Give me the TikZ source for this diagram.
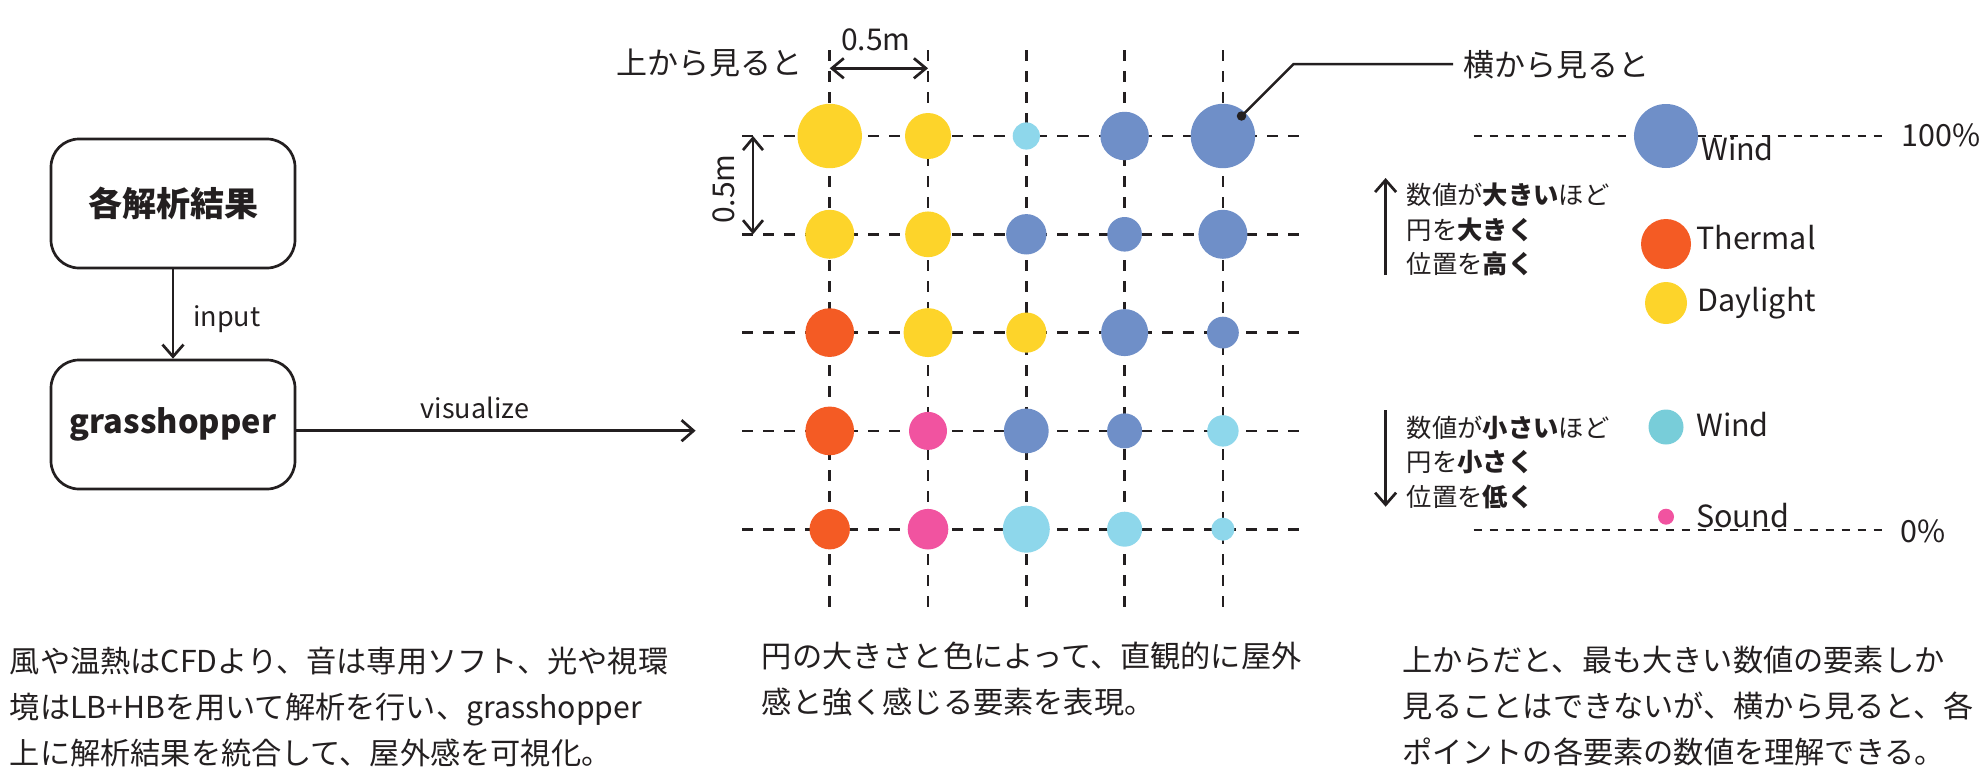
\documentclass[tikz,border=0pt]{standalone}
\usepackage{fontspec}
\setmainfont{Noto Sans CJK JP}
\usetikzlibrary{arrows.meta}
\definecolor{ink}{HTML}{231F20}
\definecolor{cy}{HTML}{FDD42A}
\definecolor{co}{HTML}{F45B24}
\definecolor{cb}{HTML}{6F8FC8}
\definecolor{cl}{HTML}{8ED7EB}
\definecolor{clw}{HTML}{78CDD9}
\definecolor{cp}{HTML}{F153A0}
\begin{document}
\begin{tikzpicture}[x=1pt,y=-1pt,
  every node/.style={text=ink},
  box/.style={draw=ink, line width=2.7pt, rounded corners=28pt, minimum width=244pt, minimum height=129pt, inner sep=0pt, font=\bfseries\fontsize{34}{40}\selectfont},
  grid/.style={draw=ink, line width=2.7pt, dash pattern=on 10.5pt off 10.5pt},
  level/.style={draw=ink, line width=2pt, dash pattern=on 8pt off 8pt},
  arr/.style={draw=ink, line width=2.7pt, -{Straight Barb[length=12pt,width=21pt]}},
  dim/.style={draw=ink, line width=2.7pt, {Straight Barb[length=12pt,width=20pt]}-{Straight Barb[length=12pt,width=20pt]}},
  blob/.style={circle, inner sep=0pt, minimum size=#1, draw=none},
  lbl/.style={inner sep=0pt, font=\fontsize{30.5}{36}\selectfont},
  small/.style={inner sep=0pt, font=\fontsize{27}{33}\selectfont},
  title/.style={inner sep=0pt, font=\fontsize{31}{36}\selectfont},
  para/.style={inner sep=0pt, align=left, font=\fontsize{30.2}{46}\selectfont},
  note/.style={inner sep=0pt, align=left, font=\fontsize{25.3}{34.5}\selectfont}]
\useasboundingbox (0,0) rectangle (1985,771);

% flow boxes
\node[box] (box1) at (173,203.5) {各解析結果};
\node[box, font=\bfseries\fontsize{32.5}{38}\selectfont] (box2) at (173,424.5) {grasshopper};
\draw[arr] (box1.south) -- (box2.north);
\node[small, anchor=base west] (inp) at (193,326) {input};
\coordinate (vz) at (695.6,430.7);
\draw[arr] (box2.east |- vz) -- (vz);
\node[small, anchor=base] (vis) at (475,418.3) {visualize};

% grid lines
\foreach \c in {1,...,5} {
  \coordinate (vt\c) at ({829.7+(\c-1)*98.3},50);
  \coordinate (vb\c) at ({829.7+(\c-1)*98.3},615);
  \draw[grid] (vt\c) -- (vb\c);
}
\foreach \r in {1,...,5} {
  \coordinate (hl\r) at (742,{136+(\r-1)*98.3});
  \coordinate (hr\r) at (1307,{136+(\r-1)*98.3});
  \draw[grid] (hl\r) -- (hr\r);
}

% circles
\foreach \r/\c/\col/\d in {
  1/1/cy/64.4, 1/2/cy/46, 1/3/cl/27.2, 1/4/cb/48.5, 1/5/cb/64.4,
  2/1/cy/49, 2/2/cy/45.7, 2/3/cb/40.4, 2/4/cb/34.6, 2/5/cb/49,
  3/1/co/48.7, 3/2/cy/48.9, 3/3/cy/40.2, 3/4/cb/47, 3/5/cb/31.8,
  4/1/co/48.7, 4/2/cp/38, 4/3/cb/44.8, 4/4/cb/35, 4/5/cl/31.4,
  5/1/co/40.4, 5/2/cp/40.6, 5/3/cl/47, 5/4/cl/35, 5/5/cl/23} {
  \node[blob=\d pt, fill=\col] (g\r\c) at ({829.7+(\c-1)*98.3},{136+(\r-1)*98.3}) {};
}

% dimensions
\coordinate (dh1) at (829.7,68.3);
\coordinate (dh2) at (928,68.3);
\draw[dim] (dh1) -- (dh2);
\node[small, anchor=base, font=\fontsize{30}{36}\selectfont] (dhl) at (876,50) {0.5m};
\coordinate (dv1) at (753,136);
\coordinate (dv2) at (753,234.3);
\draw[dim] (dv1) -- (dv2);
\node[small, rotate=90, font=\fontsize{30}{36}\selectfont] (dvl) at (723.5,189) {0.5m};

\node[title] (top) at (709,63) {上から見ると};

% leader
\node[circle, fill=ink, inner sep=0pt, minimum size=9.5pt] (ldot) at (1241.5,116) {};
\coordinate (lk) at (1293.6,64);
\coordinate (le) at (1453,64);
\draw[draw=ink, line width=2.5pt] (ldot.center) -- (lk) -- (le);
\node[title, anchor=west] (side) at (1463,65) {横から見ると};

% side view
\coordinate (l1a) at (1473.5,136);
\coordinate (l1b) at (1882.6,136);
\draw[level] (l1a) -- (l1b);
\coordinate (l0a) at (1473.5,530);
\coordinate (l0b) at (1882.6,530);
\draw[level] (l0a) -- (l0b);
\node[lbl, anchor=base west] (p100) at (1901,146) {100\%};
\node[lbl, anchor=base west] (p0) at (1900,542.7) {0\%};

\node[blob=64pt, fill=cb] (lw) at (1666,136) {};
\node[lbl, anchor=base west] (lwt) at (1701,160) {Wind};
\node[blob=50pt, fill=co] (lt) at (1666,244) {};
\node[lbl, anchor=base west] (ltt) at (1696,249.3) {Thermal};
\node[blob=42pt, fill=cy] (ld) at (1666,303) {};
\node[lbl, anchor=base west] (ldt) at (1697.5,311.7) {Daylight};
\node[blob=35pt, fill=clw] (lc) at (1666,427) {};
\node[lbl, anchor=base west] (lct) at (1696,436) {Wind};
\node[blob=16pt, fill=cp] (ls) at (1666,516.7) {};
\node[lbl, anchor=base west] (lst) at (1696,527.7) {Sound};

\coordinate (ua1) at (1385.6,275);
\coordinate (ua2) at (1385.6,178);
\draw[arr] (ua1) -- (ua2);
\node[note, anchor=west] (upt) at (1406.7,229.8) {数値が\textbf{大きい}ほど\\円を\textbf{大きく}\\位置を\textbf{高く}};
\coordinate (da1) at (1385.6,410);
\coordinate (da2) at (1385.6,506.7);
\draw[arr] (da1) -- (da2);
\node[note, anchor=west] (dnt) at (1406.7,462.4) {数値が\textbf{小さい}ほど\\円を\textbf{小さく}\\位置を\textbf{低く}};

% captions
\node[para, anchor=west] (c1) at (9.7,707) {風や温熱はCFDより、音は専用ソフト、光や視環\\境はLB+HBを用いて解析を行い、grasshopper\\上に解析結果を統合して、屋外感を可視化。};
\node[para, anchor=west] (c2) at (761.7,679) {円の大きさと色によって、直観的に屋外\\感と強く感じる要素を表現。};
\node[para, anchor=west] (c3) at (1401.8,706.5) {上からだと、最も大きい数値の要素しか\\見ることはできないが、横から見ると、各\\ポイントの各要素の数値を理解できる。};
\end{tikzpicture}
\end{document}
